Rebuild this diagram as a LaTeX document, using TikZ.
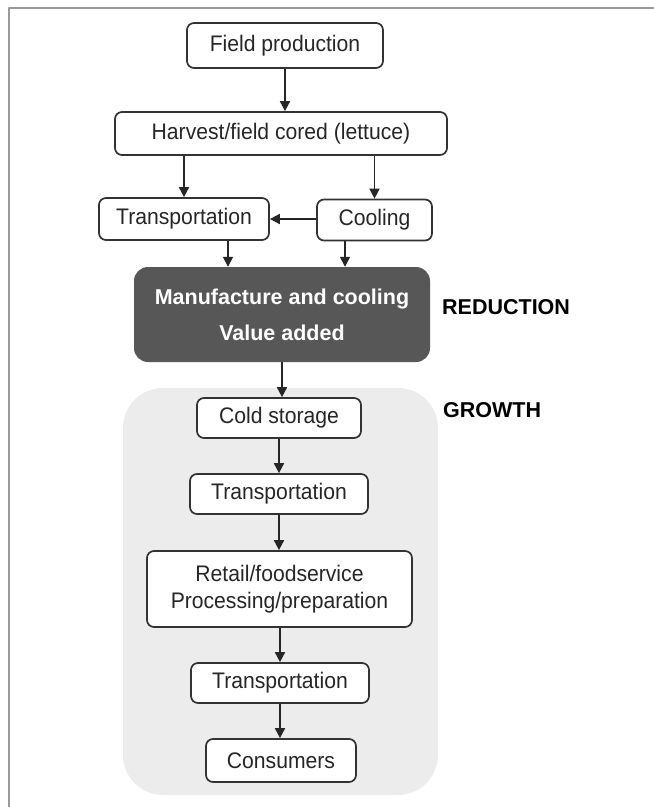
\documentclass[tikz,border=0pt]{standalone}
\usepackage{fontspec}
\setmainfont{Liberation Sans}
\newfontfamily\stagefont{Liberation Sans}[FakeStretch=0.94]
\usetikzlibrary{arrows.meta}
\definecolor{chainDark}{HTML}{575757}
\definecolor{chainShade}{HTML}{ECECEC}
\definecolor{chainFrame}{HTML}{9A9A9A}
\begin{document}
\begin{tikzpicture}[x=1pt, y=-1pt, line join=round]
% Flow chart of the fresh-cut lettuce chain, laid out on the pixel grid
\providecommand{\chainLineColor}{black!80}
\providecommand{\chainLineWidth}{1.7pt}
\providecommand{\chainFontSize}{\stagefont\fontsize{22.5}{27}\selectfont}
\tikzset{
  stagebox/.style={draw=\chainLineColor, line width=\chainLineWidth, rounded corners=7pt,
    fill=white, inner sep=0pt, align=center, font=\chainFontSize, text=black!85},
  flowarrow/.style={draw=black!85, line width=\chainLineWidth, -{Triangle[length=10pt,width=10pt]}},
  phaselabel/.style={anchor=west, inner sep=0pt, font=\bfseries\fontsize{21.5}{25}\selectfont}
}
\useasboundingbox (0,0) rectangle (654,807);
% Outer frame (top and left edge only)
\draw[chainFrame, line width=2pt] (8.5,807) -- (8.5,7.5) -- (654,7.5);
% Growth region
\fill[chainShade, rounded corners=40pt] (123,388) rectangle (438,795);
% Upper stages
\node[stagebox, minimum width=196pt, minimum height=45pt] (field) at (285,45.5) {Field production};
\node[stagebox, minimum width=332pt, minimum height=43pt] (harvest) at (281,133.5) {Harvest/field cored (lettuce)};
\node[stagebox, minimum width=170pt, minimum height=42pt] (transA) at (184,219) {Transportation};
\node[stagebox, minimum width=115pt, minimum height=41pt] (cooling) at (374.5,220) {Cooling};
% Reduction step
\node[fill=chainDark, rounded corners=14pt, minimum width=296pt, minimum height=95pt,
  inner sep=0pt, align=center, text=white, font=\bfseries\fontsize{21.5}{36}\selectfont]
  (manuf) at (282,314.5) {Manufacture and cooling\\Value added};
\node[phaselabel] (reduction) at (442,307) {REDUCTION};
\node[phaselabel] (growth) at (443,410) {GROWTH};
% Lower stages
\node[stagebox, minimum width=164pt, minimum height=40pt] (cold) at (279,418) {Cold storage};
\node[stagebox, minimum width=178pt, minimum height=40pt] (transB) at (279,494) {Transportation};
\node[stagebox, minimum width=265pt, minimum height=76pt] (retail) at (279.5,589) {Retail/foodservice\\Processing/preparation};
\node[stagebox, minimum width=178pt, minimum height=40pt] (transC) at (280,683) {Transportation};
\node[stagebox, minimum width=150pt, minimum height=43pt] (consumers) at (281,760.5) {Consumers};
% Connectors
\draw[flowarrow] (field.south) -- (field.south |- harvest.north);
\draw[flowarrow] (transA.north |- harvest.south) -- (transA.north);
\draw[flowarrow] (cooling.north |- harvest.south) -- (cooling.north);
\draw[flowarrow] (cooling.west |- transA.east) -- (transA.east);
\draw[flowarrow] ([xshift=44pt]transA.south) -- ([xshift=44pt]transA.south |- manuf.north);
\draw[flowarrow] ([xshift=-29.5pt]cooling.south) -- ([xshift=-29.5pt]cooling.south |- manuf.north);
\draw[flowarrow] (manuf.south) -- (manuf.south |- cold.north);
\draw[flowarrow] (cold.south) -- (cold.south |- transB.north);
\draw[flowarrow] (transB.south) -- (transB.south |- retail.north);
\draw[flowarrow] (transC.north |- retail.south) -- (transC.north);
\draw[flowarrow] (transC.south) -- (transC.south |- consumers.north);
\end{tikzpicture}
\end{document}
